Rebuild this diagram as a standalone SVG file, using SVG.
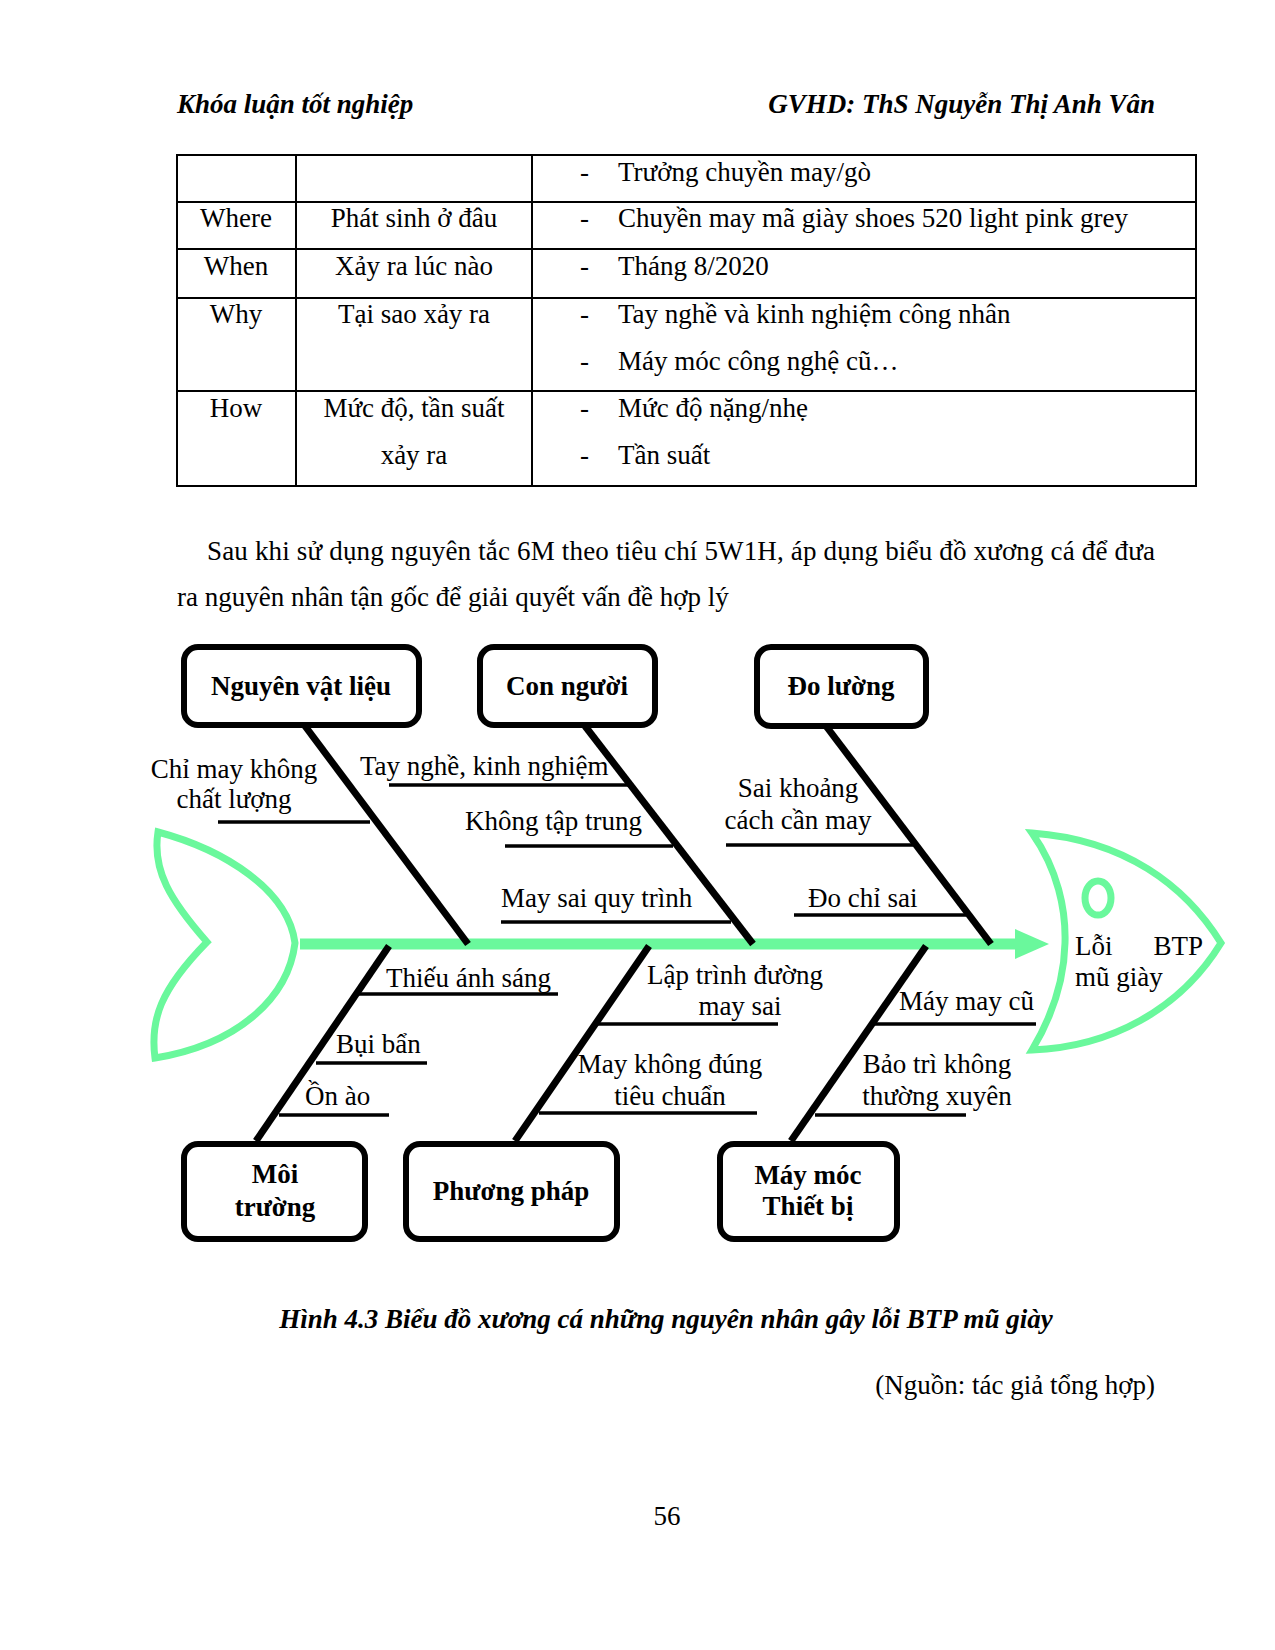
<svg xmlns="http://www.w3.org/2000/svg" width="1275" height="1650" viewBox="0 0 1275 1650">
<style>
text{font-family:"Liberation Serif","Times New Roman",serif;font-size:27px;fill:#000}
.hd{font-weight:bold;font-style:italic}
.c{text-anchor:middle}
.r{text-anchor:end}
.b{font-weight:bold}
.tl{stroke:#000;stroke-width:2;fill:none}
.box{fill:#fff;stroke:#000;stroke-width:6}
.bone{stroke:#000;stroke-width:7;stroke-linecap:butt}
.br{stroke:#000;stroke-width:3.5}
.fish{fill:none;stroke:#6AF89C;stroke-width:7}
</style>
<rect width="1275" height="1650" fill="#fff"/>
<text class="hd" x="177" y="113">Khóa luận tốt nghiệp</text>
<text class="hd r" x="1155" y="113">GVHD: ThS Nguyễn Thị Anh Vân</text>

<g id="table">
<rect class="tl" x="177" y="155" width="1019" height="331"/>
<line class="tl" x1="296" y1="155" x2="296" y2="486"/>
<line class="tl" x1="532" y1="155" x2="532" y2="486"/>
<line class="tl" x1="177" y1="202" x2="1196" y2="202"/>
<line class="tl" x1="177" y1="249" x2="1196" y2="249"/>
<line class="tl" x1="177" y1="298" x2="1196" y2="298"/>
<line class="tl" x1="177" y1="391" x2="1196" y2="391"/>
<text x="580" y="181">-</text><text x="618" y="181">Trưởng chuyền may/gò</text>
<text class="c" x="236" y="227">Where</text><text class="c" x="414" y="227">Phát sinh ở đâu</text>
<text x="580" y="227">-</text><text x="618" y="227">Chuyền may mã giày shoes 520 light pink grey</text>
<text class="c" x="236" y="275">When</text><text class="c" x="414" y="275">Xảy ra lúc nào</text>
<text x="580" y="275">-</text><text x="618" y="275">Tháng 8/2020</text>
<text class="c" x="236" y="323">Why</text><text class="c" x="414" y="323">Tại sao xảy ra</text>
<text x="580" y="323">-</text><text x="618" y="323">Tay nghề và kinh nghiệm công nhân</text>
<text x="580" y="370">-</text><text x="618" y="370">Máy móc công nghệ cũ…</text>
<text class="c" x="236" y="417">How</text><text class="c" x="414" y="417">Mức độ, tần suất</text>
<text class="c" x="414" y="464">xảy ra</text>
<text x="580" y="417">-</text><text x="618" y="417">Mức độ nặng/nhẹ</text>
<text x="580" y="464">-</text><text x="618" y="464">Tần suất</text>
</g>

<text x="207" y="560" textLength="948" lengthAdjust="spacing">Sau khi sử dụng nguyên tắc 6M theo tiêu chí 5W1H, áp dụng biểu đồ xương cá để đưa</text>
<text x="177" y="606">ra nguyên nhân tận gốc để giải quyết vấn đề hợp lý</text>

<g id="tail">
<path class="fish" d="M158,832 C225,850 288,890 295,943 C288,1000 235,1045 155,1058 C150,1020 160,990 207,942 C170,900 152,870 158,832 Z"/>
</g>
<g id="head">
<path class="fish" d="M1032,833 C1058,870 1066,910 1065,943 C1064,985 1050,1020 1032,1050 C1110,1047 1180,1010 1221,943 C1185,885 1125,840 1032,833 Z"/>
<ellipse class="fish" cx="1098" cy="898" rx="13" ry="17"/>
<text x="1075" y="955">Lỗi</text>
<text class="r" x="1203" y="955">BTP</text>
<text x="1075" y="986">mũ giày</text>
</g>

<g id="connectors">
<line x1="300" y1="944" x2="1018" y2="944" stroke="#6AF89C" stroke-width="11"/>
<polygon points="1015,929 1049,944 1015,959" fill="#6AF89C"/>
<line class="bone" x1="305" y1="726" x2="468" y2="944"/>
<line class="bone" x1="585" y1="726" x2="753" y2="944"/>
<line class="bone" x1="826" y1="726" x2="991" y2="944"/>
<line class="bone" x1="389" y1="946" x2="256" y2="1141"/>
<line class="bone" x1="649" y1="946" x2="515" y2="1141"/>
<line class="bone" x1="926" y1="946" x2="791" y2="1141"/>
<line class="br" x1="218" y1="822" x2="370" y2="822"/>
<line class="br" x1="389" y1="785" x2="629" y2="785"/>
<line class="br" x1="505" y1="846" x2="673" y2="846"/>
<line class="br" x1="501" y1="922" x2="731" y2="922"/>
<line class="br" x1="726" y1="845" x2="913" y2="845"/>
<line class="br" x1="794" y1="915" x2="966" y2="915"/>
<line class="br" x1="358" y1="994" x2="558" y2="994"/>
<line class="br" x1="316" y1="1063" x2="427" y2="1063"/>
<line class="br" x1="279" y1="1115" x2="389" y2="1115"/>
<line class="br" x1="598" y1="1024" x2="778" y2="1024"/>
<line class="br" x1="539" y1="1113" x2="757" y2="1113"/>
<line class="br" x1="871" y1="1024" x2="1036" y2="1024"/>
<line class="br" x1="815" y1="1115" x2="966" y2="1115"/>
</g>

<g id="labels">
<text class="c" x="234" y="778">Chỉ may không</text>
<text class="c" x="234" y="808">chất lượng</text>
<text x="360" y="775">Tay nghề, kinh nghiệm</text>
<text x="465" y="830">Không tập trung</text>
<text x="501" y="907">May sai quy trình</text>
<text class="c" x="798" y="797">Sai khoảng</text>
<text class="c" x="798" y="829">cách cần may</text>
<text x="808" y="907">Đo chỉ sai</text>
<text x="386" y="987">Thiếu ánh sáng</text>
<text x="336" y="1053">Bụi bẩn</text>
<text x="305" y="1105">Ồn ào</text>
<text class="c" x="735" y="984">Lập trình đường</text>
<text class="c" x="740" y="1015">may sai</text>
<text class="c" x="670" y="1073">May không đúng</text>
<text class="c" x="670" y="1105">tiêu chuẩn</text>
<text x="899" y="1010">Máy may cũ</text>
<text class="c" x="937" y="1073">Bảo trì không</text>
<text class="c" x="937" y="1105">thường xuyên</text>
</g>

<g id="box-nvl"><rect class="box" x="184" y="647" width="235" height="78" rx="14"/><text class="b c" x="301" y="695">Nguyên vật liệu</text></g>
<g id="box-connguoi"><rect class="box" x="480" y="647" width="175" height="78" rx="14"/><text class="b c" x="567" y="695">Con người</text></g>
<g id="box-doluong"><rect class="box" x="757" y="647" width="169" height="79" rx="14"/><text class="b c" x="841" y="695">Đo lường</text></g>
<g id="box-moitruong"><rect class="box" x="184" y="1144" width="181" height="95" rx="14"/><text class="b c" x="275" y="1183">Môi</text><text class="b c" x="275" y="1216">trường</text></g>
<g id="box-phuongphap"><rect class="box" x="406" y="1144" width="211" height="95" rx="14"/><text class="b c" x="511" y="1200">Phương pháp</text></g>
<g id="box-maymoc"><rect class="box" x="720" y="1144" width="177" height="95" rx="14"/><text class="b c" x="808" y="1184">Máy móc</text><text class="b c" x="808" y="1215">Thiết bị</text></g>

<text class="hd c" x="666" y="1328">Hình 4.3 Biểu đồ xương cá những nguyên nhân gây lỗi BTP mũ giày</text>
<text class="r" x="1155" y="1394">(Nguồn: tác giả tổng hợp)</text>
<text class="c" x="667" y="1525">56</text>
</svg>
